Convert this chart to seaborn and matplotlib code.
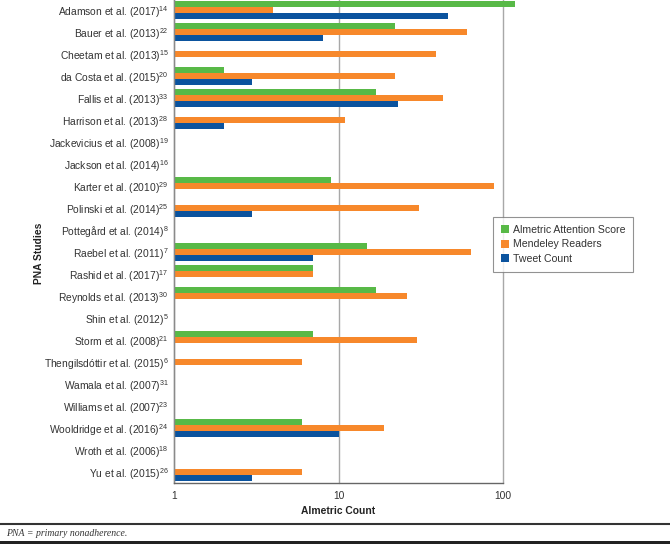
import numpy as np
import pandas as pd
import seaborn as sns
import matplotlib.pyplot as plt
from matplotlib.lines import Line2D
from matplotlib.patches import Rectangle

nan = np.nan

studies = ['Adamson et al. (2017)', 'Bauer et al. (2013)', 'Cheetam et al. (2013)',
           'da Costa et al. (2015)', 'Fallis et al. (2013)', 'Harrison et al. (2013)',
           'Jackevicius et al. (2008)', 'Jackson et al. (2014)', 'Karter et al. (2010)',
           'Polinski et al. (2014)', 'Pottegård et al. (2014)', 'Raebel et al. (2011)',
           'Rashid et al. (2017)', 'Reynolds et al. (2013)', 'Shin et al. (2012)',
           'Storm et al. (2008)', 'Thengilsdóttir et al. (2015)', 'Wamala et al. (2007)',
           'Williams et al. (2007)', 'Wooldridge et al. (2016)', 'Wroth et al. (2006)',
           'Yu et al. (2015)']
refs = [14, 22, 15, 20, 33, 28, 19, 16, 29, 25, 8, 7, 17, 30, 5, 21, 6, 31, 23, 24, 18, 26]

altmetric = [118, 22, nan, 2, 17, nan, nan, nan, 9, nan, nan, 15, 7, 17, nan, 7,
             nan, nan, nan, 6, nan, nan]
mendeley = [4, 60, 39, 22, 43, 11, nan, nan, 88, 31, nan, 64, 7, 26, nan, 30,
            6, nan, nan, 19, nan, 6]
tweets = [46, 8, nan, 3, 23, 2, nan, nan, nan, 3, nan, 7, nan, nan, nan, nan,
          nan, nan, nan, 10, nan, 3]

series = ['Almetric Attention Score', 'Mendeley Readers', 'Tweet Count']
colors = ['#58B947', '#F7882B', '#0B539E']

labels = [f'{s}$^{{{r}}}$' for s, r in zip(studies, refs)]

df = pd.DataFrame({'study': labels,
                   series[0]: altmetric,
                   series[1]: mendeley,
                   series[2]: tweets})
long_df = df.melt(id_vars='study', var_name='metric', value_name='count').dropna()

sns.set_style('white')
plt.rcParams['font.family'] = ['Liberation Sans', 'DejaVu Sans']
plt.rcParams['mathtext.fontset'] = 'custom'
plt.rcParams['mathtext.rm'] = 'Liberation Sans'

fig = plt.figure(figsize=(6.7, 5.44), dpi=100)
ax = fig.add_axes([174 / 670, 1 - 483 / 544, (503 - 174) / 670, 484 / 544])

sns.barplot(data=long_df, y='study', x='count', hue='metric',
            order=labels, hue_order=series, palette=colors,
            orient='h', errorbar=None, width=0.8, saturation=1,
            linewidth=0, ax=ax)
ax.set_xscale('log')

# bars start at the axis origin (1) so they can run past the last gridline
for p in ax.patches:
    right = p.get_x() + p.get_width()
    p.set_x(1)
    p.set_width(right - 1)
    p.set_clip_on(False)

ax.set_xlim(1, 100)
ax.set_ylim(len(labels) - 0.5, -0.5)
ax.set_xticks([1, 10, 100])
ax.set_xticklabels(['1', '10', '100'])
ax.minorticks_off()
ax.xaxis.grid(True, color='#a8a8a8', linewidth=1)
ax.yaxis.grid(False)
ax.set_axisbelow(True)
for gl in ax.get_xgridlines():
    gl.set_clip_on(False)

for side in ['top', 'right']:
    ax.spines[side].set_visible(False)
ax.spines['left'].set_color('#8a8a8a')
ax.spines['bottom'].set_color('#666666')
ax.spines['left'].set_linewidth(1)
ax.spines['bottom'].set_linewidth(1)

ax.tick_params(axis='x', length=3, pad=3, labelsize=7.4, colors='#666666', labelcolor='#333333')
ax.tick_params(axis='y', length=0, pad=4, labelsize=7.4, labelcolor='#333333')

ax.set_xlabel('Almetric Count', fontsize=7.4, fontweight='bold', color='#222222')
ax.set_ylabel('PNA Studies', fontsize=7.4, fontweight='bold', color='#222222')
ax.xaxis.set_label_coords(0.5, -0.048)
ax.yaxis.set_label_coords(-0.395, 0.475)

leg = ax.legend(loc='upper left', bbox_to_anchor=(493 / 670, 1 - 217 / 544),
                bbox_transform=fig.transFigure, borderaxespad=0,
                fontsize=7.6, frameon=True, fancybox=False,
                handlelength=0.75, handleheight=0.75, handletextpad=0.35,
                labelspacing=0.42, borderpad=0.75)
leg.get_frame().set_edgecolor('#777777')
leg.get_frame().set_linewidth(0.8)
for t in leg.get_texts():
    t.set_color('#333333')
leg.set_zorder(10)

fig.add_artist(Line2D([0, 1], [1 - 524 / 544] * 2, transform=fig.transFigure,
                      color='#333333', linewidth=1.5))
fig.text(6 / 670, 1 - 533 / 544, 'PNA = primary nonadherence.', fontsize=7,
         fontstyle='italic', family=['Liberation Serif', 'DejaVu Serif'],
         color='#333333', va='center', ha='left')
fig.add_artist(Rectangle((0, 0), 1, 3.5 / 544, transform=fig.transFigure,
                         color='#222222', linewidth=0))

fig.savefig('out.png', dpi=100)
